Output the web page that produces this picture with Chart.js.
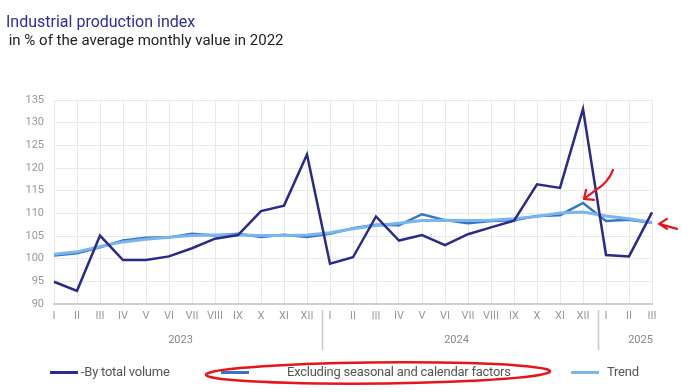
<!DOCTYPE html>
<html>
<head>
<meta charset="utf-8">
<script src="https://cdn.jsdelivr.net/npm/chart.js@4.4.1/dist/chart.umd.min.js"></script>
<style>
  html, body { margin: 0; padding: 0; background: #fff; }
  body { width: 690px; height: 392px; position: relative; overflow: hidden; font-family: Roboto, "Noto Sans", sans-serif; }
  #title { position: absolute; left: 6px; top: 12px; font-size: 16px; color: #2d2d9f; }
  #subtitle { position: absolute; left: 5px; top: 31px; font-size: 15px; color: #222; white-space: pre; }
  #wrap { position: absolute; left: 0; top: 0; width: 690px; height: 392px; }
  .leg { position: absolute; top: 364px; line-height: 16px; font-size: 13px; letter-spacing: -0.25px; color: #555; white-space: nowrap; }
  .leg i { position: absolute; top: 7px; width: 28px; height: 3px; }
</style>
</head>
<body>
<div id="wrap"><canvas id="myChart" width="690" height="392"></canvas></div>
<div id="title">Industrial production index</div>
<div id="subtitle"> in % of the average monthly value in 2022</div>
<div class="leg" style="left:50px"><i style="left:0;background:#2a2a8c"></i><span style="margin-left:31px">-By total volume</span></div>
<div class="leg" style="left:221px"><i style="left:0;background:#3674c6"></i><span style="margin-left:66px">Excluding seasonal and calendar factors</span></div>
<div class="leg" style="left:571px"><i style="left:0;background:#7ab6ee"></i><span style="margin-left:36px">Trend</span></div>
<script>
/****************** data ******************/
const months = ['I','II','III','IV','V','VI','VII','VIII','IX','X','XI','XII',
                'I','II','III','IV','V','VI','VII','VIII','IX','X','XI','XII',
                'I','II','III'];
const years = ['2023', '2024', '2025'];
const yearStart = [0, 12, 24];

const totalVolume = [94.9, 92.9, 105.1, 99.7, 99.7, 100.5, 102.3, 104.4, 105.2, 110.5, 111.7, 123.0,
                     98.9, 100.3, 109.3, 104.0, 105.2, 103.0, 105.4, 106.9, 108.4, 116.4, 115.6, 133.0,
                     100.8, 100.5, 110.2];
const seasonAdj = [100.7, 101.2, 102.5, 104.0, 104.6, 104.7, 105.5, 105.1, 105.5, 104.8, 105.3, 104.8,
                   105.5, 106.7, 107.5, 107.4, 109.8, 108.5, 107.8, 108.3, 108.5, 109.4, 109.6, 112.3,
                   108.3, 108.6, 107.9];
const trend = [101.0, 101.5, 102.7, 103.7, 104.3, 104.7, 105.1, 105.2, 105.2, 105.1, 105.1, 105.2,
               105.7, 106.6, 107.3, 107.8, 108.4, 108.5, 108.4, 108.5, 108.8, 109.3, 110.1, 110.3,
               109.4, 108.8, 108.0];

/****************** year labels + separators ******************/
const yearAxis = {
  id: 'yearAxis',
  afterDraw(chart) {
    const ctx = chart.ctx;
    const x = chart.scales.x;
    const step = x.getPixelForValue(1) - x.getPixelForValue(0);
    ctx.save();
    ctx.font = '11px Roboto, sans-serif';
    ctx.fillStyle = '#888';
    ctx.textAlign = 'center';
    ctx.textBaseline = 'middle';
    years.forEach((y, i) => {
      const s = yearStart[i];
      const e = i < years.length - 1 ? yearStart[i + 1] - 1 : months.length - 1;
      let mid = (x.getPixelForValue(s) + x.getPixelForValue(e)) / 2;
      if (i === years.length - 1) mid += step * 0.5;
      ctx.fillText(y, mid, 340);
      if (i > 0) {
        const sx = Math.round(x.getPixelForValue(s - 1) + step * 0.65) + 0.5;
        ctx.strokeStyle = '#c8c8c8';
        ctx.lineWidth = 1.5;
        ctx.beginPath();
        ctx.moveTo(sx, 310);
        ctx.lineTo(sx, 350);
        ctx.stroke();
      }
    });
    ctx.restore();
  }
};

/****************** red hand marks ******************/
const redMarks = {
  id: 'redMarks',
  afterDraw(chart) {
    const ctx = chart.ctx;
    const x = chart.scales.x, y = chart.scales.y;
    ctx.save();
    ctx.strokeStyle = '#e8141c';
    ctx.lineWidth = 2.2;
    ctx.lineCap = 'round';
    ctx.lineJoin = 'round';
    // arrow to the december peak
    const px = x.getPixelForValue(23) + 1, py = y.getPixelForValue(seasonAdj[23]) - 4;
    ctx.beginPath();
    ctx.moveTo(px + 29, py - 29);
    ctx.quadraticCurveTo(px + 24, py - 16, px + 12, py - 9);
    ctx.lineTo(px, py);
    ctx.moveTo(px + 2, py - 9);
    ctx.lineTo(px, py);
    ctx.lineTo(px + 10, py + 1);
    ctx.stroke();
    // arrow at right edge
    const qx = x.getPixelForValue(26) + 7, qy = y.getPixelForValue(seasonAdj[26]) + 1;
    ctx.beginPath();
    ctx.moveTo(qx + 8, qy - 5);
    ctx.lineTo(qx, qy);
    ctx.lineTo(qx + 8, qy + 5);
    ctx.moveTo(qx, qy);
    ctx.lineTo(qx + 18, qy + 5);
    ctx.stroke();
    // ellipse round the second legend item
    ctx.lineWidth = 2.5;
    ctx.beginPath();
    ctx.ellipse(378, 373, 172, 10.5, -0.01, Math.PI * 1.05, Math.PI * 3.1);
    ctx.stroke();
    ctx.restore();
  }
};

/****************** chart ******************/
const ctx = document.getElementById('myChart').getContext('2d');
const myChart = new Chart(ctx, {
  type: 'line',
  data: {
    labels: months,
    datasets: [
      { label: '-By total volume', data: totalVolume, borderColor: '#2a2a8c', borderWidth: 2.5, order: 1 },
      { label: 'Trend', data: trend, borderColor: '#7ab6ee', borderWidth: 3, order: 2 },
      { label: 'Excluding seasonal and calendar factors', data: seasonAdj, borderColor: '#3674c6', borderWidth: 2.5, order: 3 }
    ]
  },
  options: {
    responsive: false,
    animation: false,
    layout: { padding: { left: 0, right: 38, top: 100, bottom: 0 } },
    elements: { point: { radius: 0 }, line: { tension: 0 } },
    plugins: { legend: { display: false }, tooltip: { enabled: false } },
    scales: {
      x: {
        offset: false,
        grid: { color: '#e9e9e9', drawTicks: false },
        border: { color: '#cfcfcf', width: 2 },
        ticks: { color: '#999', font: { size: 11, family: 'Roboto' }, padding: 6, maxRotation: 0, autoSkip: false },
        afterFit(scale) { scale.height = 88; }
      },
      y: {
        min: 90, max: 135,
        grid: { color: '#e9e9e9', drawTicks: false },
        border: { display: false },
        ticks: { stepSize: 5, color: '#999', font: { size: 11, family: 'Roboto' }, padding: 10 },
        afterFit(scale) { scale.width = 54; }
      }
    }
  },
  plugins: [yearAxis, redMarks]
});
</script>
</body>
</html>
